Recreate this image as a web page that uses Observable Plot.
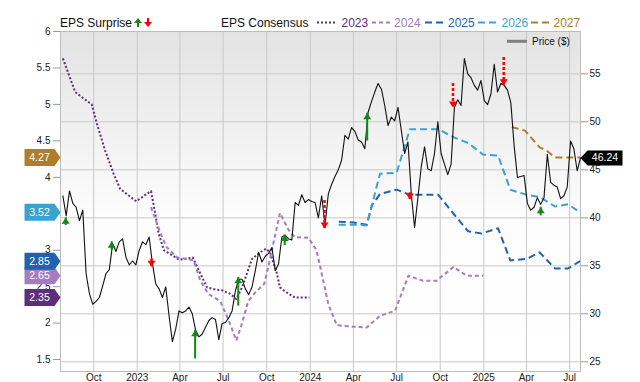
<!DOCTYPE html>
<html>
<head>
<meta charset="utf-8">
<script src="https://cdn.jsdelivr.net/npm/d3@7"></script>
<script src="https://cdn.jsdelivr.net/npm/@observablehq/plot@0.6"></script>
<style>
  html, body { margin: 0; padding: 0; background: #fff; }
  #wrap { position: relative; width: 640px; height: 382px; overflow: hidden; font-family: "Liberation Sans", Arial, sans-serif; }
  #spacer { height: 30px; }
  #legend { position: absolute; left: 0; top: 0; pointer-events: none; overflow: visible; }
</style>
</head>
<body>
<div id="wrap">
  <div id="spacer"></div>
  <div id="chart"></div>
  <svg id="legend" width="640" height="60"></svg>
</div>
<script>
// ---------------- DATA ----------------
// Weekly closing price ($), first week starting 2022-07-28
const priceStart = "2022-07-28";
const priceWeekly = [
  42.3, 40.2, 42.8, 41.5, 41.1, 39.7, 40.8, 34.2, 32.1, 31.0,
  31.3, 31.7, 32.9, 34.2, 34.6, 37.3, 36.5, 37.5, 37.8, 35.9,
  35.1, 35.5, 35.1, 36.6, 37.5, 37.2, 38.0, 35.2, 33.1, 32.6,
  31.7, 32.8, 29.8, 27.1, 28.4, 30.3, 30.1, 30.3, 30.7, 30.0,
  28.3, 27.6, 27.9, 28.6, 29.3, 29.6, 29.4, 27.3, 29.0, 29.1,
  29.6, 30.3, 32.4, 33.6, 33.6, 32.6, 32.0, 32.8, 34.5, 36.4,
  35.4, 36.0, 36.3, 36.9, 34.5, 35.2, 38.0, 38.2, 37.8, 37.7,
  41.6, 41.3, 42.4, 41.6, 41.9, 41.7, 41.6, 40.0, 42.3, 39.2,
  42.5, 43.5, 44.3, 45.0, 46.0, 48.6, 48.2, 49.4, 49.0, 48.1,
  47.9, 47.2, 51.0, 52.1, 53.1, 54.0, 53.4, 51.7, 49.6, 50.5,
  50.1, 51.5, 49.1, 46.7, 47.9, 42.5, 39.0, 42.1, 45.3, 47.4,
  45.1, 44.9, 46.7, 50.0, 46.7, 45.6, 44.5, 45.6, 51.5, 52.3,
  51.7, 56.6, 55.0, 54.6, 53.8, 53.3, 54.3, 52.2, 51.8, 52.9,
  56.0, 53.1, 54.0, 53.8, 53.3, 52.0, 47.5, 44.2, 44.3, 44.4,
  41.5, 40.8, 41.1, 42.1, 41.4, 42.1, 46.6, 43.7, 43.4, 43.2,
  42.0, 42.3, 43.2, 48.0, 47.2, 44.9, 46.24
];

// EPS consensus for each fiscal year: [date, EPS]
const eps2023 = [
  ["2022-07-28",5.63],["2022-08-09",5.42],["2022-08-23",5.17],["2022-09-10",5.08],
  ["2022-09-27",5.00],["2022-10-08",4.73],["2022-10-25",4.37],["2022-11-12",4.05],
  ["2022-11-26",3.84],["2022-12-14",3.75],["2022-12-30",3.67],["2023-01-18",3.76],
  ["2023-01-30",3.81],["2023-02-08",3.50],["2023-02-15",3.23],["2023-02-26",3.00],
  ["2023-03-16",2.93],["2023-03-30",2.87],["2023-04-12",2.88],["2023-04-28",2.90],
  ["2023-05-14",2.68],["2023-05-28",2.49],["2023-06-15",2.46],["2023-06-29",2.45],
  ["2023-07-16",2.40],["2023-07-29",2.33],["2023-08-10",2.49],["2023-08-31",2.88],
  ["2023-09-17",2.97],["2023-09-30",3.02],["2023-10-08",2.97],["2023-10-21",2.72],
  ["2023-10-29",2.49],["2023-11-12",2.42],["2023-11-30",2.35],["2023-12-30",2.35]
];
const eps2024 = [
  ["2023-01-30",3.59],["2023-02-19",3.23],["2023-03-04",3.04],["2023-03-26",2.90],
  ["2023-04-16",2.88],["2023-04-30",2.86],["2023-05-14",2.58],["2023-05-31",2.40],
  ["2023-06-25",2.30],["2023-07-12",2.05],["2023-07-29",1.76],["2023-08-10",2.00],
  ["2023-08-23",2.30],["2023-09-07",2.42],["2023-09-26",2.54],["2023-10-08",2.88],
  ["2023-10-29",3.51],["2023-11-15",3.29],["2023-11-29",3.18],["2023-12-28",3.17],
  ["2024-01-14",3.00],["2024-01-22",2.77],["2024-02-08",2.26],["2024-02-26",1.97],
  ["2024-04-01",1.95],["2024-04-29",1.94],["2024-05-27",2.10],["2024-06-28",2.17],
  ["2024-07-26",2.65],["2024-08-26",2.58],["2024-09-23",2.58],["2024-10-29",2.77],
  ["2024-11-26",2.65],["2024-12-31",2.65]
];
const eps2025 = [
  ["2024-03-01",3.39],["2024-04-01",3.38],["2024-04-29",3.35],["2024-05-10",3.62],
  ["2024-05-27",3.77],["2024-07-01",3.83],["2024-07-29",3.76],["2024-09-27",3.76],
  ["2024-10-29",3.50],["2024-11-29",3.26],["2024-12-27",3.23],["2025-01-31",3.30],
  ["2025-02-26",2.86],["2025-04-01",2.88],["2025-04-29",2.97],["2025-05-31",2.75],
  ["2025-06-28",2.75],["2025-07-23",2.85]
];
const eps2026 = [
  ["2024-03-01",3.35],["2024-04-01",3.35],["2024-04-29",3.34],["2024-05-27",4.05],
  ["2024-07-01",4.06],["2024-07-29",4.66],["2024-09-27",4.66],["2024-10-29",4.55],
  ["2024-11-29",4.47],["2024-12-31",4.31],["2025-01-31",4.30],["2025-02-26",3.83],
  ["2025-04-01",3.76],["2025-04-29",3.73],["2025-05-31",3.60],["2025-06-28",3.63],
  ["2025-07-23",3.52]
];
const eps2027 = [
  ["2025-03-01",4.69],["2025-03-29",4.64],["2025-04-29",4.41],["2025-05-13",4.37],
  ["2025-05-31",4.27],["2025-07-23",4.27]
];

const seriesNames = ["2023", "2024", "2025", "2026", "2027"];
const seriesData = [eps2023, eps2024, eps2025, eps2026, eps2027];

// EPS surprises (arrow from tail price to tip price)
const surpriseDates = ["2022-08-03","2022-11-08","2023-01-31","2023-05-03","2023-08-02","2023-11-08",
                       "2024-01-31","2024-04-30","2024-07-29","2024-10-28","2025-02-12","2025-05-01"];
const surpriseKind  = ["beat","beat","miss","beat","beat","beat","miss","beat","miss","miss","miss","beat"];
const surpriseTip   = [40.0, 37.5, 34.9, 28.3, 33.8, 38.2, 38.9, 50.9, 41.9, 51.5, 53.8, 41.1];
const surpriseTail  = [39.2, 36.6, 35.7, 25.3, 30.8, 37.1, 41.8, 48.0, 42.6, 54.0, 56.7, 40.2];

// Axis ticks (the 3.5 label sits under the 3.52 tag in the reference, so it is left blank)
const xTickDates  = ["2022-10-01","2023-01-01","2023-04-01","2023-07-01","2023-10-01","2024-01-01",
                     "2024-04-01","2024-07-01","2024-10-01","2025-01-01","2025-04-01","2025-07-01"];
const xTickLabels = ["Oct","2023","Apr","Jul","Oct","2024","Apr","Jul","Oct","2025","Apr","Jul"];
const epsTicks    = [1.5, 2, 2.5, 3, 3.5, 4, 4.5, 5, 5.5, 6];
const epsTickLabels = ["1.5", "2", "2.5", "3", "", "4", "4.5", "5", "5.5", "6"];
const priceTicks  = [25, 30, 35, 40, 45, 50, 55];

// ---------------- STYLE ----------------
const seriesColors = ["#5e2d7c", "#a37dc0", "#1f62ad", "#3ba3d0", "#b07c2e"];
const seriesDash   = ["2,2", "4,3", "7,4", "7,4", "7,4"];
const beatColor = "#128a12", missColor = "#ff0000";

// ---------------- PREP ----------------
const parse = s => new Date(s + "T00:00:00Z");
const priceDomain = [23.99, 59.41];
const epsDomain = [1.336, 6.0];
const toPrice = d3.scaleLinear().domain(epsDomain).range(priceDomain);

const price = priceWeekly.map((v, i) => ({date: d3.utcDay.offset(parse(priceStart), 7 * i), value: v}));
const surprises = surpriseDates.map((d, i) => ({
  date: parse(d), beat: surpriseKind[i] === "beat", tip: surpriseTip[i], tail: surpriseTail[i]
}));
const xTickMap = new Map(xTickDates.map((d, i) => [+parse(d), xTickLabels[i]]));
const epsTickPrices = epsTicks.map(e => toPrice(e));
const epsLabelMap = new Map(epsTickPrices.map((p, i) => [p, epsTickLabels[i]]));
const tags = seriesData.map((s, i) => ({eps: s[s.length - 1][1], color: seriesColors[i]}));
const lastPrice = price[price.length - 1].value;

const headUp = {draw(c) { c.moveTo(0, 0); c.lineTo(4, 6); c.lineTo(-4, 6); c.closePath(); }};
const headDown = {draw(c) { c.moveTo(0, 0); c.lineTo(4, -6); c.lineTo(-4, -6); c.closePath(); }};
const tagLeft = {draw(c) { c.moveTo(0, 0); c.lineTo(-6, -8.5); c.lineTo(-36, -8.5); c.lineTo(-36, 8.5); c.lineTo(-6, 8.5); c.closePath(); }};
const tagRight = {draw(c) { c.moveTo(0, 0); c.lineTo(7, -7.5); c.lineTo(42, -7.5); c.lineTo(42, 7.5); c.lineTo(7, 7.5); c.closePath(); }};

const epsLines = seriesData.map((s, i) => Plot.line(s, {
  x: d => parse(d[0]), y: d => toPrice(d[1]),
  stroke: seriesColors[i], strokeWidth: 2, strokeDasharray: seriesDash[i], strokeLinecap: "butt"
}));

const chart = Plot.plot({
  width: 640,
  height: 352,
  marginTop: 1,
  marginBottom: 11,
  marginLeft: 60,
  marginRight: 60,
  style: {fontFamily: "'Liberation Sans', Arial, sans-serif", fontSize: "10px", background: "transparent", overflow: "visible", color: "#222"},
  x: {type: "utc", domain: [parse("2022-07-23"), parse("2025-07-24")]},
  y: {domain: priceDomain},
  marks: [
    Plot.frame({fill: "url(#bgGrad)", stroke: "none"}),
    Plot.gridX(xTickDates.map(parse), {stroke: "#c8c8c8", strokeOpacity: 1, strokeWidth: 1}),
    Plot.gridY(priceTicks, {stroke: "#c8c8c8", strokeOpacity: 1, strokeWidth: 1}),
    Plot.frame({stroke: "#bdbdbd", strokeWidth: 1}),
    Plot.axisX(xTickDates.map(parse), {anchor: "bottom", tickSize: 0, tickPadding: 2, tickFormat: d => xTickMap.get(+d), fill: "#222", label: null}),
    Plot.axisY(epsTickPrices, {anchor: "left", tickSize: 7, tickPadding: 3, stroke: "#999", fill: "#222", label: null,
      tickFormat: p => epsLabelMap.get(p) ?? ""}),
    Plot.axisY(priceTicks, {anchor: "right", tickSize: 7, tickPadding: 2, stroke: "#999", fill: "#222", label: null}),
    ...epsLines,
    Plot.line(price, {x: "date", y: "value", stroke: "#111", strokeWidth: 1.1}),
    Plot.ruleX(surprises.filter(d => d.beat), {x: "date", y1: "tail", y2: "tip", stroke: beatColor, strokeWidth: 2}),
    Plot.ruleX(surprises.filter(d => !d.beat), {x: "date", y1: "tail", y2: "tip", stroke: missColor, strokeWidth: 2.5, strokeDasharray: "3,2"}),
    Plot.dot(surprises.filter(d => d.beat), {x: "date", y: "tip", symbol: headUp, r: 4, fill: beatColor, stroke: "none"}),
    Plot.dot(surprises.filter(d => !d.beat), {x: "date", y: "tip", symbol: headDown, r: 4, fill: missColor, stroke: "none"}),
    Plot.dot(tags, {frameAnchor: "left", y: d => toPrice(d.eps), symbol: tagLeft, r: 4, fill: d => d.color, stroke: "none"}),
    Plot.text(tags, {frameAnchor: "left", y: d => toPrice(d.eps), text: d => d.eps.toFixed(2), dx: -21, fill: "white", fontSize: 10.5, textAnchor: "middle"}),
    Plot.dot([lastPrice], {frameAnchor: "right", y: d => d, symbol: tagRight, r: 4, fill: "#000", stroke: "none"}),
    Plot.text([lastPrice], {frameAnchor: "right", y: d => d, text: d => d.toFixed(2), dx: 24.5, fill: "white", fontSize: 10.5, textAnchor: "middle"})
  ]
});

d3.select(chart).insert("defs", ":first-child").html(
  '<linearGradient id="bgGrad" x1="0" y1="0" x2="0" y2="1">' +
  '<stop offset="0" stop-color="#e3e3e3"/><stop offset="0.55" stop-color="#fdfdfd"/><stop offset="1" stop-color="#ffffff"/>' +
  '</linearGradient>');
document.getElementById("chart").appendChild(chart);

// ---------------- LEGEND ----------------
const lg = d3.select("#legend").style("font-family", "'Liberation Sans', Arial, sans-serif");
lg.append("text").attr("x", 60).attr("y", 27).attr("font-size", 12).attr("fill", "#111").text("EPS Surprise");
lg.append("line").attr("x1", 138).attr("x2", 138).attr("y1", 27).attr("y2", 22).attr("stroke", beatColor).attr("stroke-width", 2);
lg.append("path").attr("d", "M138,18L142,23L134,23Z").attr("fill", beatColor);
lg.append("line").attr("x1", 148).attr("x2", 148).attr("y1", 18).attr("y2", 23).attr("stroke", missColor).attr("stroke-width", 2);
lg.append("path").attr("d", "M148,27L152,22L144,22Z").attr("fill", missColor);
lg.append("text").attr("x", 221).attr("y", 27).attr("font-size", 12).attr("fill", "#111").text("EPS Consensus");
const swX = [317, 372, 425, 478, 531];
const txX = [341.5, 394, 448, 501.5, 553.5];
seriesNames.forEach((n, i) => {
  lg.append("line").attr("x1", swX[i]).attr("x2", swX[i] + 20).attr("y1", 22.5).attr("y2", 22.5)
    .attr("stroke", seriesColors[i]).attr("stroke-width", 2).attr("stroke-dasharray", seriesDash[i]);
  lg.append("text").attr("x", txX[i]).attr("y", 27).attr("font-size", 12).attr("fill", seriesColors[i]).text(n);
});
lg.append("line").attr("x1", 507).attr("x2", 527).attr("y1", 41.3).attr("y2", 41.3).attr("stroke", "#7f7f7f").attr("stroke-width", 3);
lg.append("text").attr("x", 532).attr("y", 45).attr("font-size", 10).attr("fill", "#111").text("Price ($)");
</script>
</body>
</html>
